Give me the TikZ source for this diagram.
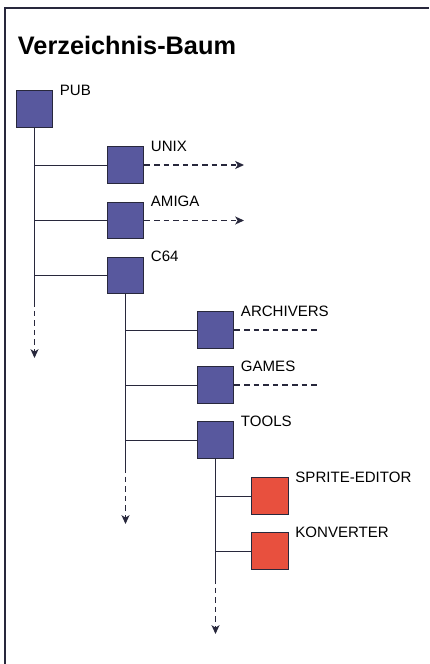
\documentclass[tikz,border=0pt]{standalone}
\usepackage{fontspec}
\setmainfont{Liberation Sans}
\usetikzlibrary{arrows,arrows.meta,calc}
\definecolor{dirblue}{RGB}{88,88,158}
\definecolor{filered}{RGB}{232,80,62}
\definecolor{inkline}{RGB}{40,40,60}

\begin{document}
\begin{tikzpicture}[x=0.025cm,y=-0.025cm,>={Stealth[length=0.22cm,width=0.2cm,inset=0.06cm]},line width=0.7pt,
  dir/.style ={rectangle, draw=inkline, fill=dirblue, line width=0.8pt, minimum size=0.92cm, inner sep=0pt},
  prog/.style ={dir, fill=filered},
  tag/.style ={anchor=west, inner sep=0pt, xshift=0.15cm, font=\fontsize{10.7}{12}\selectfont},
  branch/.style ={draw=inkline},
  more/.style ={draw=inkline, line width=0.9pt, dash pattern=on 0.14cm off 0.1cm}]
\useasboundingbox (0,0) rectangle (429,664);
\draw[inkline, line width=0.9pt] (5,664) -- (5,8) -- (429,8);
\node[anchor=base west, inner sep=0pt, font=\fontsize{18}{20}\selectfont\bfseries] (title) at (17.5,54.5) {Verzeichnis-Baum};

% Verzeichnisse
\node[dir] (pub) at (34.5,109) {};
\node[dir] (unix) at (125.5,165) {};
\node[dir] (amiga) at (125.5,220.5) {};
\node[dir] (c64) at (125.5,275.5) {};
\node[dir] (arch) at (215.5,330) {};
\node[dir] (games) at (215.5,385) {};
\node[dir] (tools) at (215.5,440) {};
\node[prog] (sprite) at (270,496) {};
\node[prog] (konv) at (270,551) {};

\node[tag] (pubL) at (pub.north east) {PUB};
\node[tag] (unixL) at (unix.north east) {UNIX};
\node[tag] (amigaL) at (amiga.north east) {AMIGA};
\node[tag] (c64L) at (c64.north east) {C64};
\node[tag] (archL) at (arch.north east) {ARCHIVERS};
\node[tag] (gamesL) at (games.north east) {GAMES};
\node[tag] (toolsL) at (tools.north east) {TOOLS};
\node[tag] (spriteL) at (sprite.north east) {SPRITE-EDITOR};
\node[tag] (konvL) at (konv.north east) {KONVERTER};

% Enden der Linien
\coordinate (pubA) at (34.5,301);
\coordinate (pubB) at (34.5,358);
\coordinate (c64A) at (125.5,467);
\coordinate (c64B) at (125.5,524);
\coordinate (toolsA) at (215.5,578);
\coordinate (toolsB) at (215.5,634);
\coordinate (unixE) at (244,165);
\coordinate (amigaE) at (244,220.5);
\coordinate (archE) at (317,330);
\coordinate (gamesE) at (317,385);

% Stamm und Zweige
\draw[branch] (pub.south) -- (pubA);
\draw[more,->] (pubA) -- (pubB);
\draw[branch] (c64.south) -- (c64A);
\draw[more,->] (c64A) -- (c64B);
\draw[branch] (tools.south) -- (toolsA);
\draw[more,->] (toolsA) -- (toolsB);
\foreach \n in {unix,amiga,c64} \draw[branch] (pub.south |- \n.west) -- (\n.west);
\foreach \n in {arch,games,tools} \draw[branch] (c64.south |- \n.west) -- (\n.west);
\foreach \n in {sprite,konv} \draw[branch] (tools.south |- \n.west) -- (\n.west);
\draw[more,->] (unix.east) -- (unixE);
\draw[more,->] (amiga.east) -- (amigaE);
\draw[more] (arch.east) -- (archE);
\draw[more] (games.east) -- (gamesE);
\end{tikzpicture}
\end{document}
